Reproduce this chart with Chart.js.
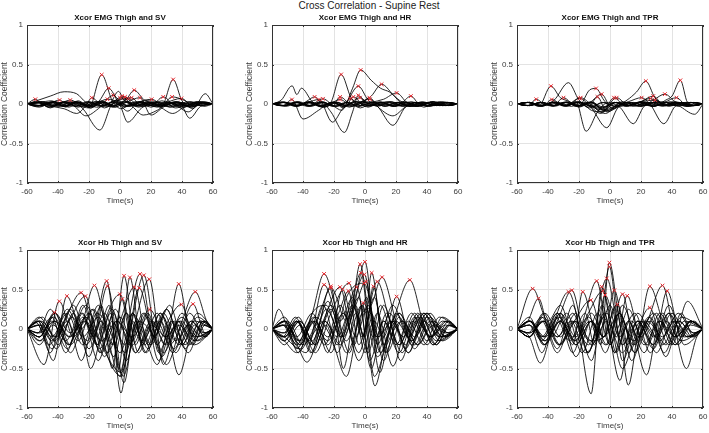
<!DOCTYPE html>
<html><head><meta charset="utf-8">
<script src="https://cdn.jsdelivr.net/npm/chart.js@4.4.1/dist/chart.umd.min.js"></script>
<style>
html,body{margin:0;padding:0;background:#fff;width:709px;height:433px;overflow:hidden;position:relative;font-family:"Liberation Sans",Arial,sans-serif}
canvas{position:absolute}
#suptitle{position:absolute;top:0;left:269px;width:200px;text-align:center;font-size:10px;color:#222;line-height:12px;white-space:nowrap}
</style></head><body>
<div id="suptitle">Cross Correlation - Supine Rest</div>
<canvas id="p1"></canvas><canvas id="p2"></canvas><canvas id="p3"></canvas>
<canvas id="p4"></canvas><canvas id="p5"></canvas><canvas id="p6"></canvas>
<script>
// ---------- data ----------
const timeTicks = [-60, -40, -20, 0, 20, 40, 60];
const coefTicks = [-1, -0.5, 0, 0.5, 1];
const panelTitles = ["Xcor EMG Thigh and SV", "Xcor EMG Thigh and HR", "Xcor EMG Thigh and TPR",
                     "Xcor Hb Thigh and SV", "Xcor Hb Thigh and HR", "Xcor Hb Thigh and TPR"];

// each curve: flat list of knots  [t, r, t, r, ...]
const emgSvCurves = [
 [-60,0,-54.6,0.06,-49,-0.02,-42,0.03,-35,-0.04,-28,0.02,-20,-0.03,-12,0.02,-5,-0.04,3,0.03,10,-0.02,18,0.02,26,-0.03,35,0.02,44,-0.02,52,0.02,60,0],
 [-60,0,-52,-0.03,-45,0.01,-39,0.05,-33,-0.04,-26,0.02,-19,-0.05,-11,0.03,-4,-0.02,4,0.02,12,-0.04,20,0.01,28,-0.03,36,0.02,45,-0.04,53,0.01,60,0],
 [-60,0,-53,0.02,-45,-0.04,-38,0.01,-32.1,0.05,-24,-0.06,-13,-0.33,-4,0.02,4,-0.03,13,0.03,22,-0.02,31,0.02,40,-0.03,50,0.02,60,0],
 [-60,0,-52,0.01,-44,-0.03,-36,-0.06,-28,-0.12,-22,-0.02,-18.2,0.08,-10,-0.05,-2,0.02,6,-0.03,14,0.02,24,-0.04,33,0.01,42,-0.02,52,0.02,60,0],
 [-60,0,-50,0.02,-42,-0.02,-34,0.03,-26,-0.02,-20,-0.05,-11.8,0.37,-5,0.04,1,-0.06,8,0.02,16,-0.03,26,0.02,36,-0.03,46,0.02,54,-0.01,60,0],
 [-60,0,-51,-0.02,-43,0.03,-35,-0.03,-27,0.04,-19,-0.05,-13,0.05,-7.3,0.2,-1,0.02,5,-0.09,12,0.02,20,-0.04,30,0.03,40,-0.05,50,0.03,60,0],
 [-60,0,-53,0.03,-46,-0.04,-38,0.02,-30,-0.02,-22,-0.15,-14,-0.06,-4.3,0.11,3,-0.04,10,0.03,18,-0.02,27,0.04,36,-0.05,46,0.03,54,-0.03,60,0],
 [-60,0,-52,-0.04,-44,0.02,-36,-0.02,-28,0.03,-20,-0.03,-8.1,0.06,0,-0.02,5,-0.23,14,-0.05,24,0.02,33,-0.04,42,0.01,50,-0.02,60,0],
 [-60,0,-50,0.03,-41,-0.03,-32,0.02,-24,-0.04,-16,0.03,-8,-0.03,0,0.08,8,-0.02,16,0.04,24,-0.03,33,0.02,44,-0.1,52,0.01,60,0],
 [-60,0,-52,0.02,-44,0.04,-36,-0.03,-28,0.02,-20,-0.04,-10,0.02,-4,-0.03,1.1,0.1,8,-0.03,15,-0.14,24,-0.08,32,0.02,40,-0.03,50,0.03,60,0],
 [-60,0,-54,-0.03,-47,0.02,-39,-0.03,-31,0.03,-23,-0.02,-15,0.03,-8,-0.03,3.2,0.09,10,-0.03,18,0.03,26,-0.04,34,-0.12,42,-0.03,50,0.02,60,0],
 [-60,0,-50,-0.02,-42,0.03,-34,-0.02,-26,0.02,-18,-0.03,-10,0.02,-3,-0.04,5.4,0.07,12,-0.02,20,0.02,28,-0.02,38,0.03,45,-0.18,52,-0.03,60,0],
 [-60,0,-52,0.02,-44,-0.02,-36,0.03,-28,-0.03,-20,0.02,-12,-0.02,-4,0.03,7.5,0.08,14,-0.03,22,0.02,30,-0.03,39,0.02,47,-0.04,54,0.02,60,0],
 [-60,0,-54,0.04,-45,0.1,-36,0.155,-28,0.13,-22,0.02,-15,-0.04,-6,0.02,-1,0.16,3,0.05,9.2,0.175,16,0.05,24,0.03,32,-0.04,40,0.02,47,-0.06,55,0.13,60,0],
 [-60,0,-52,-0.02,-44,0.03,-36,-0.03,-28,0.02,-20,-0.02,-12,0.03,-4,-0.04,4,0.02,12.9,0.08,20,-0.14,28,-0.04,36,0.03,44,-0.03,52,0.02,60,0],
 [-60,0,-53,0.02,-45,-0.05,-37,0.02,-29,-0.03,-21,0.03,-13,-0.03,-5,0.02,3,-0.03,11,0.02,20.4,0.06,28,-0.02,36,0.03,44,-0.03,52,0.02,60,0],
 [-60,0,-51,0.03,-43,-0.02,-35,0.02,-27,-0.04,-19,0.02,-11,-0.03,-3,0.04,5,-0.02,13,0.03,20,-0.02,27.9,0.09,36,-0.02,44,0.03,52,-0.02,60,0],
 [-60,0,-52,-0.02,-44,0.02,-36,-0.03,-28,0.03,-20,-0.02,-12,0.04,-4,-0.02,4,0.03,12,-0.03,20,0.02,26,-0.04,33.6,0.09,41,0.05,48,-0.03,55,0.02,60,0],
 [-60,0,-53,-0.02,-45,0.02,-37,-0.03,-29,0.02,-21,-0.02,-13,0.03,-5,-0.03,3,0.04,11,-0.02,19,0.02,27,-0.02,34.3,0.31,40,0.04,46,-0.04,53,0.02,60,0],
 [-60,0,-52,0.02,-44,-0.03,-36,0.03,-28,-0.02,-20,0.03,-12,-0.02,-2,0.05,6,-0.03,14,0.02,22,-0.03,30,0.02,39.6,0.07,47,-0.02,54,0.03,60,0]
];
const emgSvPeaks = [-54.6,0.06,-39,0.05,-32.1,0.05,-18.2,0.08,-11.8,0.37,-7.3,0.2,-4.3,0.11,-8.1,0.06,0,0.08,1.1,0.1,3.2,0.09,5.4,0.07,7.5,0.08,9.2,0.175,12.9,0.08,20.4,0.06,27.9,0.09,33.6,0.09,34.3,0.31,39.6,0.07];

const emgHrCurves = [
 [-60,0,-53,-0.02,-47.1,0.057,-40,-0.19,-30,-0.08,-22,0.02,-14,-0.03,-6,0.03,2,-0.02,10,0.03,18,-0.03,26,0.02,34,-0.03,42,0.02,50,-0.02,60,0],
 [-60,0,-52,0.02,-44,-0.03,-38,0.03,-32.5,0.09,-26,-0.03,-18,0.02,-10,-0.04,-2,0.03,6,-0.02,14,0.03,22,-0.02,30,0.03,38,-0.04,46,0.02,54,-0.02,60,0],
 [-60,0,-53,0.03,-45,-0.02,-37,0.02,-29.7,0.057,-21,-0.23,-14,-0.05,-6,0.03,2,-0.04,10,0.02,18,-0.03,26,0.02,34,-0.02,43,0.03,51,-0.02,60,0],
 [-60,0,-52,-0.02,-44,0.03,-36,-0.02,-27.1,0.066,-19,-0.03,-11,0.02,-3,-0.05,5,0.02,13,-0.03,21,0.02,29,-0.03,37,0.02,45,-0.02,53,0.02,60,0],
 [-60,0,-52,0.02,-44,-0.02,-36,0.03,-28,-0.04,-22,0.02,-15.4,0.374,-9,0.08,-3,-0.02,4,0.03,12,-0.02,20,0.02,28,-0.03,36,0.02,46,-0.02,54,0.02,60,0],
 [-60,0,-51,-0.03,-43,0.02,-35,-0.03,-27,0.02,-21,-0.03,-16.1,0.09,-8,-0.02,0,0.03,8,-0.03,18,-0.27,26,-0.04,34,0.02,42,-0.02,50,0.02,60,0],
 [-60,0,-50,0.02,-42,-0.02,-34,0.02,-26,-0.03,-16.1,0.057,-8,-0.03,0,0.02,8,-0.02,16,0.03,24,-0.02,32,0.02,40,-0.03,48,0.02,54,-0.02,60,0],
 [-60,0,-53,-0.02,-45,0.02,-37,-0.03,-29,0.02,-21,-0.02,-15,-0.08,-9.6,0.07,-3,-0.02,5,0.02,13,-0.03,21,0.02,29,-0.02,37,0.03,45,-0.02,53,0.02,60,0],
 [-60,0,-52,0.02,-44,-0.02,-36,0.03,-28,-0.02,-20,0.02,-13,-0.04,-7.5,0.09,0,-0.03,8,0.02,16,-0.02,24,0.03,32,-0.03,40,0.02,48,-0.02,60,0],
 [-60,0,-52,-0.02,-44,0.02,-36,-0.02,-28,0.03,-20,-0.03,-12,0.03,-4.3,0.226,2,0.05,8,-0.03,16,0.02,24,-0.03,32,0.02,40,-0.02,48,0.03,60,0],
 [-60,0,-52,0.02,-44,-0.03,-36,0.02,-28,-0.03,-20,0.02,-14,-0.05,-8,0.2,-2.8,0.43,4,0.3,10,0.2,16,0.15,22,0.05,30,-0.03,38,0.02,46,-0.02,54,0.01,60,0],
 [-60,0,-52,-0.02,-44,0.02,-36,-0.03,-28,0.02,-22,-0.1,-13.3,-0.36,-8,-0.1,-4.3,0.11,2,-0.03,10,0.02,18,-0.02,26,0.03,34,-0.03,42,0.02,50,-0.02,60,0],
 [-60,0,-53,0.02,-45,-0.02,-37,0.02,-29,-0.03,-21,0.02,-13,-0.03,-3.2,0.08,4,-0.02,12,0.02,20,-0.03,28,0.02,36,-0.02,44,0.03,52,-0.02,60,0],
 [-60,0,-51,-0.02,-43,0.03,-35,-0.02,-27,0.02,-19,-0.03,-11,0.02,-4,-0.03,2.8,0.08,9,-0.02,17,0.03,25,-0.03,33,0.02,41,-0.03,49,0.02,60,0],
 [-60,0,-52,0.02,-44,-0.02,-36,0.02,-28,-0.03,-20,0.03,-12,-0.02,-4,0.02,3.2,0.06,9,-0.05,18,-0.15,26,-0.04,34,0.02,42,-0.03,50,0.02,60,0],
 [-60,0,-54,0.05,-47,0.23,-44,0.12,-41,0.2,-34,0.03,-26,-0.04,-18,0.02,-10,-0.03,-2,0.03,4,0.1,10.7,0.25,18,0.12,24,0,32,-0.03,40,0.02,48,-0.02,60,0],
 [-60,0,-52,-0.02,-44,0.02,-36,-0.02,-28,0.03,-20,-0.02,-12,0.02,-4,-0.03,4,0.02,12,0.06,20.4,0.14,27,0.02,34,-0.03,42,0.02,50,-0.02,60,0],
 [-60,0,-53,0.02,-45,-0.03,-37,0.02,-29,-0.02,-21,0.02,-13,-0.02,-5,0.03,3,-0.02,11,0.02,19,-0.03,24,0.02,29.6,0.1,36,-0.02,44,0.03,52,-0.02,60,0]
];
const emgHrPeaks = [-47.1,0.057,-32.5,0.09,-29.7,0.057,-27.1,0.066,-15.4,0.374,-16.1,0.09,-16.1,0.057,-9.6,0.07,-7.5,0.09,-4.3,0.226,-2.8,0.43,-4.3,0.11,-3.2,0.08,2.8,0.08,3.2,0.06,10.7,0.25,20.4,0.14,29.6,0.1];

const emgTprCurves = [
 [-60,0,-53,-0.02,-47.6,0.06,-41,-0.02,-33,0.02,-25,-0.03,-17,0.02,-9,-0.06,-1,-0.08,7,0.02,15,-0.03,23,0.02,31,-0.02,39,0.03,47,-0.02,54,0.02,60,0],
 [-60,0,-53,0.02,-46,-0.03,-38.1,0.226,-32,0.08,-26,0.03,-20,-0.04,-12,0.02,-4,-0.08,4,0.02,12,-0.02,20,0.03,28,-0.03,36,0.02,44,-0.02,52,0.02,60,0],
 [-60,0,-52,0.02,-44,-0.03,-37.5,0.057,-30,-0.02,-22,0.03,-15.4,-0.345,-8,-0.1,-1,0.02,7,-0.03,15,0.02,23,-0.02,31,0.03,39,-0.02,47,0.02,54,-0.02,60,0],
 [-60,0,-53,-0.02,-45,0.02,-37,-0.03,-30,0.08,-22,-0.03,-14,0.02,-6,-0.1,2,-0.06,10,0.02,18,-0.03,26,0.02,34,-0.02,42,0.03,50,-0.02,60,0],
 [-60,0,-52,0.02,-44,-0.02,-36,0.02,-28,-0.03,-19.7,0.07,-12,-0.05,-2.1,-0.3,5,-0.05,12,0.02,20,-0.03,28,0.02,36,-0.02,44,0.02,52,-0.02,60,0],
 [-60,0,-53,0.02,-45,-0.03,-37,0.02,-29,-0.02,-18.9,0.08,-11,-0.03,-3,-0.12,5,-0.03,15,-0.25,22,-0.03,30,0.02,38,-0.03,46,0.02,54,-0.02,60,0],
 [-60,0,-52,-0.02,-44,0.02,-36,-0.02,-28,0.03,-20,-0.02,-13,0.18,-9,0.197,-4,0.05,2,-0.06,10,0.02,18,-0.02,26,0.02,34,-0.03,42,0.02,50,-0.02,60,0],
 [-60,0,-52,0.02,-44,-0.02,-36,0.03,-28,-0.02,-20,0.02,-14,-0.04,-8.1,0.09,-2,-0.1,6,-0.03,14,0.02,22,-0.02,30,0.03,38,-0.02,46,0.02,54,-0.02,60,0],
 [-60,0,-53,-0.02,-45,0.02,-37,-0.02,-29,0.02,-21,-0.03,-13,0.02,-5.4,0.125,1,-0.05,8,0.03,16,-0.02,24,0.02,34.7,-0.25,42,-0.03,50,0.02,60,0],
 [-60,0,-52,0.02,-44,-0.03,-36,0.02,-28,-0.02,-20,0.03,-12,-0.08,-5,-0.1,2.6,0.08,10,-0.03,18,0.02,26,-0.02,34,0.03,42,-0.02,50,0.02,60,0],
 [-60,0,-53,0.02,-45,-0.02,-37,0.02,-29,-0.03,-21,0.02,-13,-0.03,-6,-0.12,4.3,0.08,12,-0.02,20,0.03,28,-0.03,36,0.02,44,-0.02,54.6,-0.13,60,0],
 [-60,0,-52,-0.02,-44,0.02,-36,-0.02,-28,0.02,-20,-0.03,-12,0.02,-4,-0.08,4,-0.02,12,0.03,20.4,0.08,28,-0.02,36,0.02,44,-0.03,52,0.02,60,0],
 [-60,0,-52,0.02,-44,-0.02,-36,0.05,-26.8,0.27,-20,0.05,-13,-0.05,-5,0.02,3,-0.03,11,0.05,17,0.15,23.1,0.29,29,0.08,36,-0.02,44,0.02,52,-0.02,60,0],
 [-60,0,-53,0.02,-45,-0.02,-37,0.02,-29,-0.02,-21,0.03,-13,-0.02,-5,-0.06,3,0.02,11,-0.03,19,0.02,26.1,0.07,33,-0.02,41,0.02,49,-0.03,60,0],
 [-60,0,-52,-0.02,-44,0.02,-36,-0.03,-28,0.02,-20,-0.02,-12,0.03,-4,-0.07,4,0.02,12,-0.02,20,0.03,27.9,0.1,35,-0.02,43,0.02,51,-0.02,60,0],
 [-60,0,-53,-0.02,-45,0.02,-37,-0.02,-29,0.02,-21,-0.02,-13,0.02,-5,-0.05,3,0.02,11,-0.02,19,0.02,29,0.05,37,-0.02,45,0.02,53,-0.02,60,0],
 [-60,0,-52,0.02,-44,-0.02,-36,0.02,-28,-0.02,-20,0.02,-12,-0.03,-4,0.02,4,-0.03,12,0.02,20,-0.03,28,0.05,35.4,0.125,42,0.03,50,-0.03,60,0],
 [-60,0,-53,0.02,-45,-0.02,-37,0.02,-29,-0.02,-21,0.02,-13,-0.02,-5,-0.04,3,0.02,11,-0.02,19,0.02,27,-0.03,35,0.02,42.9,0.08,50,-0.03,56,0.02,60,0],
 [-60,0,-52,-0.02,-44,0.02,-36,-0.02,-28,0.02,-20,-0.02,-12,0.02,-4,-0.04,4,0.02,12,-0.02,20,0.02,28,-0.03,36,0.05,40,0.1,45.4,0.3,50,0.02,55,-0.02,60,0]
];
const emgTprPeaks = [-47.6,0.06,-38.1,0.226,-37.5,0.057,-30,0.08,-19.7,0.07,-18.9,0.08,-9,0.197,-8.1,0.09,-5.4,0.125,2.6,0.08,4.3,0.08,20.4,0.08,23.1,0.29,26.1,0.07,27.9,0.1,29,0.05,35.4,0.125,42.9,0.08,45.4,0.3];

const hbSvCurves = [
 [-60,0,-52,-0.1,-42.2,0.21,-32,-0.2,-22,0.1,-12,-0.3,-2,0.1,8,-0.2,18,0.15,28,-0.3,38,0.05,48,-0.15,60,0],
 [-60,0,-49,-0.45,-39.2,0.35,-30,-0.1,-20,0.2,-10,-0.35,0,0.15,10,-0.3,20,0.1,30,-0.2,40,0.2,50,-0.1,60,0],
 [-60,0,-53,0.1,-43,-0.4,-34.3,0.416,-25,0,-17,0.25,-7,-0.4,1,-0.6,8,0.1,16,-0.2,26,0.2,36,-0.3,46,0.1,54,-0.05,60,0],
 [-60,0,-54,0.08,-46,-0.2,-36,0.1,-25.1,0.46,-15,-0.1,-7,0.3,0.6,-0.81,8,0.2,17,-0.3,26,0.1,35,-0.25,45,0.2,55,-0.1,60,0],
 [-60,0,-52,0.15,-42,-0.1,-33,0.1,-22.3,0.416,-13,-0.3,-4,0.2,4,-0.4,12,0.1,20,-0.2,30,0.25,40,-0.2,50,0.15,60,0],
 [-60,0,-51,-0.15,-42,0.2,-32,-0.3,-24,0.1,-16.5,0.55,-8,-0.1,0,-0.6,8,0.2,16,-0.1,24,-0.45,33,0.1,42,-0.2,52,0.1,60,0],
 [-60,0,-50,0.15,-40,-0.2,-30,0.2,-20,-0.35,-8.6,0.607,0,-0.55,8,0.2,16,-0.3,26,0.2,36,-0.15,46,0.1,55,-0.1,60,0],
 [-60,0,-52,-0.1,-44,0.1,-34,-0.25,-24,0.2,-17,-0.1,-8.1,0.543,2.6,-0.68,10,0.1,18,-0.25,28,0.2,38,-0.2,48,0.1,60,0],
 [-60,0,-53,-0.05,-44,0.15,-35,-0.3,-26,0.05,-19,-0.5,-10,0.1,0,0.44,8,-0.15,16,0.2,25,-0.4,35,0.1,45,-0.2,54,0.1,60,0],
 [-60,0,-52,0.1,-42,-0.15,-32,0.25,-22,-0.2,-12,0.1,-5,-0.2,1.5,0.38,10,-0.3,20,0.05,30,-0.1,40,0.15,50,-0.15,60,0],
 [-60,0,-51,0.05,-41,-0.25,-31,0.15,-21,-0.15,-12,0.3,-5,-0.5,2.6,0.674,10,-0.2,18,0.2,27,-0.35,37,0.1,47,-0.2,55,0.1,60,0],
 [-60,0,-52,-0.2,-42,0.1,-33,-0.2,-24,0.3,-14,-0.2,-6,0.2,-1,-0.5,6.4,0.653,14,-0.2,24,0.2,34,-0.3,44,0.05,53,-0.1,60,0],
 [-60,0,-53,0.05,-45,-0.3,-36,0.2,-27,-0.15,-18,0.25,-8,-0.3,0,0.1,9.2,0.53,18,-0.2,28,0.15,38,-0.58,48,0.05,55,-0.05,60,0],
 [-60,0,-52,-0.1,-42,0.2,-32,-0.05,-22,0.3,-12,-0.2,1,-0.55,12.4,0.52,22,-0.1,30,0.25,40,-0.2,50,0.2,60,0],
 [-60,0,-51,0.1,-41,-0.1,-30,0.3,-20,-0.25,-10,0.2,0,-0.3,12.9,0.697,22,-0.1,32,0.3,42,-0.25,52,0.1,60,0],
 [-60,0,-52,-0.15,-43,0.05,-33,-0.2,-24,0.15,-14,-0.4,-5,0.1,3,-0.2,15.4,0.68,25,-0.3,34,0.1,44,-0.3,53,0.05,60,0],
 [-60,0,-53,0.1,-44,-0.25,-34,0.1,-25,-0.4,-15,0.2,-5,-0.1,2,-0.6,10,0.1,18.9,0.63,28,-0.45,38,0.1,48,-0.2,60,0],
 [-60,0,-52,-0.05,-42,0.1,-32,-0.1,-22,0.15,-12,-0.15,-2,0.1,8,-0.1,19.3,0.247,29,-0.1,39,0.1,49,-0.1,60,0],
 [-60,0,-52,0.1,-44,-0.1,-34,0.2,-24,-0.2,-14,0.3,-4,-0.2,4,0.2,12,-0.3,21,0.1,29,-0.2,37.9,0.57,46,-0.1,54,0.1,60,0],
 [-60,0,-52,-0.1,-43,0.15,-33,-0.1,-23,0.1,-13,-0.25,-3,0.25,6,-0.2,15,0.2,24,-0.2,31,0.1,39.6,0.31,48,-0.15,55,0.05,60,0],
 [-60,0,-52,0.05,-44,-0.15,-34,0.25,-24,-0.1,-14,0.15,-4,-0.35,4,0.2,14,-0.15,24,0.1,32,-0.2,40,0.05,47.1,0.315,55,-0.05,60,0],
 [-60,0,-53,-0.05,-45,0.25,-35,-0.15,-25,0.2,-15,-0.2,-5,0.25,3,-0.3,12,0.1,22,-0.1,30,-0.45,40,0.1,48.6,0.47,56,0.1,60,0]
];
const hbSvPeaks = [-42.2,0.21,-39.2,0.35,-34.3,0.416,-25.1,0.46,-22.3,0.416,-16.5,0.55,-8.6,0.607,-8.1,0.543,0,0.44,1.5,0.38,2.6,0.674,6.4,0.653,9.2,0.53,12.4,0.52,12.9,0.697,15.4,0.68,18.9,0.63,19.3,0.247,37.9,0.57,39.6,0.31,47.1,0.315,48.6,0.47];

const hbHrCurves = [
 [-60,0,-52,-0.1,-42,-0.25,-34,0.2,-26.4,0.697,-18,0.2,-10,-0.3,-2,0.3,6.4,-0.72,14,-0.1,22,0.2,32,-0.2,42,0.15,52,-0.1,60,0],
 [-60,0,-55.7,0.25,-48,-0.1,-38,-0.3,-26.4,0.56,-16,0.1,-8,0.4,0,-0.3,8,0.2,18,-0.47,28,0.1,38,-0.2,48,0.15,60,0],
 [-60,0,-52,-0.15,-44,0.1,-34,-0.2,-22.1,0.54,-14,-0.5,-6,0.2,2,-0.3,10,0.3,20,-0.2,30,0.2,40,-0.15,50,0.1,60,0],
 [-60,0,-50,0.1,-40,-0.2,-31,0.1,-21.9,0.52,-12,0.1,-4,0.4,3,-0.4,12,0.1,22,-0.3,32,0.15,42,-0.1,52,0.05,60,0],
 [-60,0,-53,0.05,-45,-0.15,-37.5,-0.42,-27,0.1,-16.1,0.53,-7,-0.2,1,0.4,9.6,-0.55,18,0.1,26,-0.2,36,0.2,46,-0.2,55,0.05,60,0],
 [-60,0,-52,0.15,-44,-0.1,-34,0.2,-24,-0.3,-14.4,0.5,-6,-0.1,2,0.3,10,-0.3,20,0.1,30,-0.15,40,0.2,50,-0.1,60,0],
 [-60,0,-52,-0.2,-42,0.05,-32,-0.3,-22,0.2,-10.3,0.58,-2,-0.1,6,0.4,14,-0.3,24,0.1,34,-0.2,44,0.1,54,-0.05,60,0],
 [-60,0,-51,0.1,-42,-0.2,-33,0.1,-24,-0.1,-17,0.2,-10.7,0.48,-4,-0.2,4,0.2,12,-0.4,22,0.2,32,-0.1,42,0.2,52,-0.1,60,0],
 [-60,0,-53,-0.1,-45,0.15,-36,-0.15,-27,0.3,-18,-0.2,-5.4,0.53,4,-0.5,12,0.1,22,-0.2,31,0.1,40,-0.2,50,0.15,60,0],
 [-60,0,-52,0.05,-44,-0.2,-35,0.1,-26,-0.2,-16,0.3,-10,0.1,-3.2,0.82,5,-0.1,12,0.3,22,-0.2,32,0.2,42,-0.1,52,0.1,60,0],
 [-60,0,-52,-0.1,-43,0.1,-34,-0.3,-25,0.05,-18,-0.3,-10,0.2,-2.6,0.71,6,-0.6,14,-0.2,24,0.1,34,-0.2,44,0.05,54,-0.05,60,0],
 [-60,0,-52,0.1,-43,-0.3,-34,0.2,-25,0.3,-16,-0.1,-8,0.3,-0.4,0.69,8,-0.2,16,0.2,26,-0.25,36,0.15,46,-0.15,60,0],
 [-60,0,-52,-0.15,-44,-0.3,-35,-0.1,-26,0.1,-16,-0.2,-8,0.2,0,0.85,8,-0.3,16,0.1,25,-0.1,34,0.15,44,-0.2,54,0.05,60,0],
 [-60,0,-51,0.05,-42,-0.15,-32,0.1,-22,-0.3,-12,0.4,-0.6,0.58,9,-0.1,18,0.3,28,-0.1,38,0.2,48,-0.15,60,0],
 [-60,0,-52,-0.05,-43,0.15,-34,-0.15,-24,0.35,-14,-0.1,-6,0.3,0.6,0.6,7,-0.1,14,0.2,23,-0.4,33,0.1,43,-0.1,53,0.1,60,0],
 [-60,0,-52,0.1,-42,-0.2,-32,0.15,-22,-0.1,-12,-0.6,-1.1,0.33,8,-0.1,18,0.1,28,-0.3,38,0.2,48,-0.1,60,0],
 [-60,0,-53,-0.05,-44,0.1,-35,-0.2,-25,0.25,-15,-0.1,-6,0.3,-1,-0.1,4.3,0.71,12,-0.2,20,0.2,30,-0.15,40,0.2,50,-0.15,60,0],
 [-60,0,-52,-0.1,-44,0.1,-35,-0.3,-26,0.1,-18,-0.1,-8,0.3,0,-0.1,5.4,0.54,13,-0.3,22,0.15,32,-0.25,42,0.1,52,-0.05,60,0],
 [-60,0,-52,0.1,-43,-0.15,-33,0.15,-24,-0.2,-14,0.2,-4,-0.3,7.9,0.6,16,0.1,24,-0.3,34,0.2,44,-0.2,54,0.1,60,0],
 [-60,0,-52,-0.15,-42,0.1,-32,-0.2,-22,0.25,-12,-0.3,-2,0.2,4,0.3,11,0.655,20,0.1,28,-0.3,38,0.1,48,-0.1,60,0],
 [-60,0,-53,0.05,-44,-0.25,-34,0.1,-24,-0.15,-14,0.2,-4,-0.4,6,0.1,12,-0.1,20.4,0.41,30,-0.2,40,0.15,50,-0.1,60,0],
 [-60,0,-52,-0.1,-42,0.1,-32,-0.2,-22,0.3,-12,-0.15,-2,0.3,8,-0.35,18,0.1,28.9,0.62,38,0.05,46,-0.2,54,0.05,60,0]
];
const hbHrPeaks = [-26.4,0.697,-26.4,0.56,-22.1,0.54,-21.9,0.52,-16.1,0.53,-14.4,0.5,-10.3,0.58,-10.7,0.48,-5.4,0.53,-3.2,0.82,-2.6,0.71,-0.4,0.69,0,0.85,-0.6,0.58,0.6,0.6,-1.1,0.33,4.3,0.71,5.4,0.54,7.9,0.6,11,0.655,20.4,0.41,28.9,0.62];

const hbTprCurves = [
 [-60,0,-49.9,0.51,-40,0.1,-32,0.3,-22,-0.2,-12,0.1,-3,-0.3,6,0.2,15,-0.2,25,0.15,35,-0.3,45,0.1,53,-0.1,60,0],
 [-60,0,-53,0.1,-46.1,0.387,-38,-0.1,-28,0.2,-18,-0.3,-8,0.2,0,-0.2,8,0.3,18,-0.1,28,0.2,38,-0.2,48,0.1,60,0],
 [-60,0,-52,-0.1,-45,-0.43,-36,0.1,-26.8,0.47,-18,-0.1,-12,-0.4,-4,0.2,6.4,-0.65,14,0.1,24,-0.2,34,0.2,44,-0.2,52,0.1,60,0],
 [-60,0,-52,0.15,-43,-0.2,-34,0.1,-24.6,0.49,-14,-0.3,-5,0.3,3,-0.3,12,0.1,22,-0.3,32,0.2,42,-0.1,52,0.1,60,0],
 [-60,0,-51,0.1,-42,-0.15,-32,0.1,-24,-0.2,-17.6,0.47,-8,-0.1,0,0.3,8,-0.2,18,0.1,28,-0.25,38,0.2,48,-0.1,60,0],
 [-60,0,-52,-0.1,-43,0.2,-33,-0.2,-23,0.1,-12.4,0.365,-4,-0.1,4,0.3,11.8,-0.71,20,0.1,30,-0.1,40,0.2,50,-0.1,60,0],
 [-60,0,-52,0.1,-44,-0.1,-34,0.2,-24,-0.3,-16,0.2,-8.6,0.607,0,-0.2,8,0.1,16,-0.3,26,0.1,36,-0.2,46,0.15,60,0],
 [-60,0,-53,-0.05,-44,0.15,-34,-0.25,-24,0.3,-12.2,-0.82,-5.4,0.535,4,-0.1,12,0.25,22,-0.2,32,0.1,42,-0.2,52,0.1,60,0],
 [-60,0,-52,0.1,-42,-0.2,-32,0.2,-22,-0.1,-14,0.2,-4.7,0.48,4,-0.3,12,0.1,23.6,-0.58,32,0.1,42,-0.1,52,0.05,60,0],
 [-60,0,-52,-0.1,-43,0.1,-34,-0.1,-24,0.2,-14,-0.3,-2.1,0.64,8,-0.2,18,0.2,28,-0.1,38,0.2,49.3,-0.5,56,-0.1,60,0],
 [-60,0,-52,0.05,-44,-0.3,-35,0.15,-26,-0.15,-16,0.2,-10,-0.2,-3.2,0.43,6,-0.1,16,0.2,26,-0.3,36,0.1,46,-0.15,60,0],
 [-60,0,-52,0.1,-42,-0.1,-32,0.1,-22,-0.2,-12,0.1,-6,-0.2,-0.4,0.84,6,0.1,12,-0.3,22,0.1,32,-0.15,42,0.1,52,-0.1,60,0],
 [-60,0,-52,-0.1,-43,0.15,-34,-0.1,-25,0.1,-16,-0.3,-6,0.1,-0.4,0.79,8,-0.4,18,0.1,28,-0.2,38,0.3,48,-0.2,60,0],
 [-60,0,-52,0.05,-42,-0.15,-32,0.2,-22,-0.35,-12,0.1,-4,-0.1,2.8,0.49,11,-0.2,20,0.1,30,-0.3,40,0.1,50,-0.1,60,0],
 [-60,0,-52,-0.05,-43,0.1,-33,-0.2,-23,0.1,-13,-0.15,-4,-0.1,4.7,0.31,14,-0.4,24,0.1,34,-0.1,44,0.2,54,-0.05,60,0],
 [-60,0,-51,0.1,-42,-0.2,-32,0.1,-22,-0.15,-12,0.2,-2,-0.2,8.1,0.44,16,-0.2,26,0.15,36,-0.35,46,0.2,54,-0.1,60,0],
 [-60,0,-52,-0.1,-44,0.1,-34,-0.3,-24,0.1,-14,-0.2,-4,0.15,3,-0.3,11.1,0.42,20,-0.1,30,0.2,40,-0.2,50,0.35,60,0],
 [-60,0,-52,0.05,-44,-0.15,-34,0.2,-24,-0.1,-14,0.15,-4,-0.1,6,0.2,16,-0.3,25.7,0.54,34,0.1,42,-0.2,52,0.1,60,0],
 [-60,0,-52,-0.05,-42,0.1,-32,-0.2,-22,0.1,-12,-0.15,-2,0.2,8,-0.5,16,-0.1,25.7,0.27,34,-0.2,44,0.1,54,-0.05,60,0],
 [-60,0,-52,0.1,-43,-0.1,-33,0.15,-23,-0.15,-13,0.1,-3,-0.2,6,0.2,15,-0.15,24,0.1,33.9,0.55,43,-0.1,52,0.1,60,0],
 [-60,0,-52,-0.1,-42,0.2,-32,-0.1,-22,0.2,-12,-0.2,-2,0.1,8,-0.3,18,0.1,28,-0.2,36.9,0.48,46,-0.1,54,0.1,60,0]
];
const hbTprPeaks = [-49.9,0.51,-46.1,0.387,-26.8,0.47,-24.6,0.49,-17.6,0.47,-12.4,0.365,-8.6,0.607,-5.4,0.535,-4.7,0.48,-2.1,0.64,-3.2,0.43,-0.4,0.84,-0.4,0.79,2.8,0.49,4.7,0.31,8.1,0.44,11.1,0.42,25.7,0.54,25.7,0.27,33.9,0.55,36.9,0.48];

// ---------- rendering ----------
const FONT = '"Liberation Sans", Arial, Helvetica, sans-serif';
const AX = '#3a3a3a';
const PLOT_W = 186, PLOT_H = 158, LEFT_M = 27, TOP_M = 25, BOT_M = 25, RIGHT_M = 14;

function pairs(flat) {
  const out = [];
  for (let i = 0; i < flat.length; i += 2) out.push({x: flat[i], y: flat[i + 1]});
  return out;
}

const boxPlugin = {
  id: 'matlabBox',
  afterDraw(chart) {
    const {ctx, chartArea: a, scales} = chart;
    ctx.save();
    ctx.strokeStyle = '#333';
    ctx.lineWidth = 1;
    ctx.strokeRect(Math.round(a.left) + 0.5, Math.round(a.top) + 0.5, Math.round(a.right - a.left) - 1, Math.round(a.bottom - a.top) - 1);
    ctx.beginPath();
    const tl = 2;
    scales.x.ticks.forEach(t => {
      const px = Math.round(scales.x.getPixelForValue(t.value)) + 0.5;
      ctx.moveTo(px, a.bottom); ctx.lineTo(px, a.bottom - tl);
      ctx.moveTo(px, a.top); ctx.lineTo(px, a.top + tl);
    });
    scales.y.ticks.forEach(t => {
      const py = Math.round(scales.y.getPixelForValue(t.value)) + 0.5;
      ctx.moveTo(a.left, py); ctx.lineTo(a.left + tl, py);
      ctx.moveTo(a.right, py); ctx.lineTo(a.right - tl, py);
    });
    ctx.stroke();
    ctx.restore();
  }
};

const panels = [
  {id: 'p1', title: panelTitles[0], curves: emgSvCurves, peaks: emgSvPeaks, left: 27, top: 25},
  {id: 'p2', title: panelTitles[1], curves: emgHrCurves, peaks: emgHrPeaks, left: 272, top: 25},
  {id: 'p3', title: panelTitles[2], curves: emgTprCurves, peaks: emgTprPeaks, left: 517, top: 25},
  {id: 'p4', title: panelTitles[3], curves: hbSvCurves, peaks: hbSvPeaks, left: 27, top: 250},
  {id: 'p5', title: panelTitles[4], curves: hbHrCurves, peaks: hbHrPeaks, left: 272, top: 250},
  {id: 'p6', title: panelTitles[5], curves: hbTprCurves, peaks: hbTprPeaks, left: 517, top: 250}
];

panels.forEach(p => {
  const cv = document.getElementById(p.id);
  const W = LEFT_M + PLOT_W + RIGHT_M, H = TOP_M + PLOT_H + BOT_M;
  cv.width = W; cv.height = H;
  cv.style.left = (p.left - LEFT_M) + 'px';
  cv.style.top = (p.top - TOP_M) + 'px';
  cv.style.width = W + 'px'; cv.style.height = H + 'px';

  const datasets = [{
    data: pairs(p.peaks), showLine: false, pointStyle: 'crossRot', pointRadius: 2.6,
    pointBorderColor: '#e8292f', pointBorderWidth: 1, borderColor: '#e8292f', backgroundColor: 'transparent'
  }];
  p.curves.forEach(c => datasets.push({
    data: pairs(c), borderColor: 'rgba(0,0,0,0.85)', borderWidth: 1, pointRadius: 0,
    cubicInterpolationMode: 'monotone', tension: 0.4, fill: false
  }));

  new Chart(cv, {
    type: 'line',
    data: {datasets},
    plugins: [boxPlugin],
    options: {
      responsive: false, animation: false, devicePixelRatio: 1,
      layout: {padding: {left: 0, right: RIGHT_M, top: 0, bottom: 0}},
      plugins: {
        legend: {display: false}, tooltip: {enabled: false},
        title: {display: true, text: p.title, fullSize: false, color: '#111',
                font: {family: FONT, size: 8, weight: 'bold', lineHeight: 1.2},
                padding: {top: 13, bottom: 2.4}}
      },
      scales: {
        x: {
          type: 'linear', min: -60, max: 60,
          afterBuildTicks(s) { s.ticks = timeTicks.map(v => ({value: v})); },
          afterFit(s) { s.height = BOT_M; s.paddingLeft = 0; s.paddingRight = 0; },
          grid: {color: '#e3e3e3', lineWidth: 1, drawTicks: false},
          border: {display: false},
          ticks: {autoSkip: false, maxRotation: 0, padding: 4, color: AX, font: {family: FONT, size: 8},
                  callback: v => String(v)},
          title: {display: true, text: 'Time(s)', color: AX, font: {family: FONT, size: 8}, padding: {top: 0, bottom: 2}}
        },
        y: {
          type: 'linear', min: -1, max: 1,
          afterBuildTicks(s) { s.ticks = coefTicks.map(v => ({value: v})); },
          afterFit(s) { s.width = LEFT_M; s.paddingTop = 0; s.paddingBottom = 0; },
          grid: {color: '#e3e3e3', lineWidth: 1, drawTicks: false},
          border: {display: false},
          ticks: {padding: 4, color: AX, font: {family: FONT, size: 8}, callback: v => String(v)},
          title: {display: true, text: 'Correlation Coefficient', color: AX, font: {family: FONT, size: 8.5}, padding: {top: 0, bottom: 0}}
        }
      }
    }
  });
});
</script>
</body></html>
